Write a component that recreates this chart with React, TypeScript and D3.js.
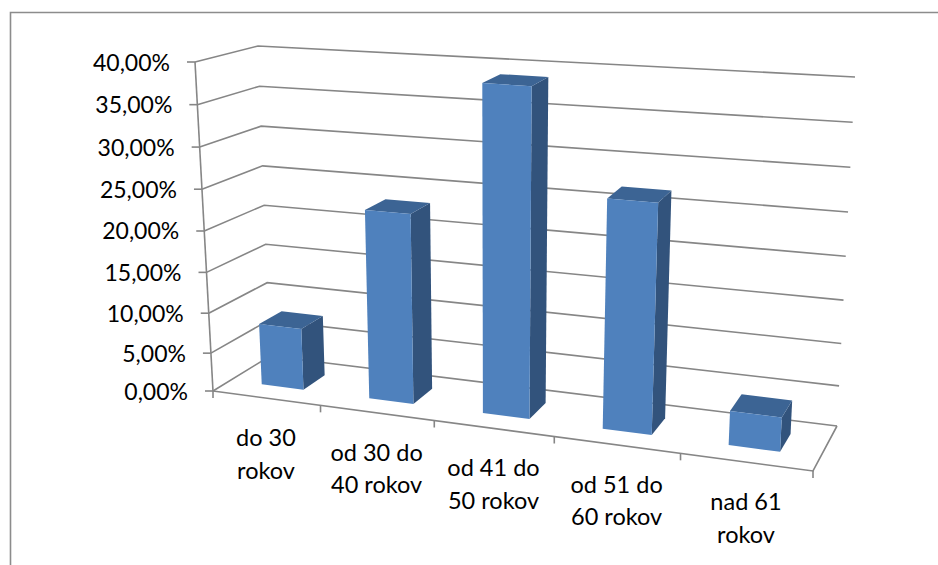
import React from 'react';
import * as d3 from 'd3';

const categories = [['do 30', 'rokov'], ['od 30 do', '40 rokov'], ['od 41 do', '50 rokov'], ['od 51 do', '60 rokov'], ['nad 61', 'rokov']];
const values = [7.9, 23.2, 39, 27, 4.2];
const yTicks = [0, 5, 10, 15, 20, 25, 30, 35, 40];

const width = 938;
const height = 565;

// corners of the 3D box on screen, [x, y]
const frontBottomLeft = [213, 391];
const frontBottomRight = [813, 471];
const backBottomLeft = [270, 356];
const backBottomRight = [837, 426];
const frontTopLeft = [195, 62];
const frontTopRight = [834, 106];
const backTopLeft = [258, 46];
const backTopRight = [855, 77];

const catScale = d3.scaleLinear().domain([0, categories.length]).range([0, 1]);
const tScale = d3.scalePow().exponent(1.04).domain([0, 40]).range([0, 1]);

const barStart = 0.3;
const barWidth = 0.395;
const depthFront = 0.31;
const depthBack = 0.71;

const mix = (a: number[], b: number[], k: number) => [a[0] + (b[0] - a[0]) * k, a[1] + (b[1] - a[1]) * k];

// c = category position, d = depth 0..1, val = percent
const project = (c: number, d: number, val: number) => {
  const s = catScale(c);
  // categories get wider towards the right, the chart is in perspective
  const u = 0.87 * s + 0.13 * s * s;
  const t = tScale(val);
  const bottom = mix(mix(frontBottomLeft, frontBottomRight, u), mix(backBottomLeft, backBottomRight, u), d);
  const top = mix(mix(frontTopLeft, frontTopRight, u), mix(backTopLeft, backTopRight, u), d);
  return mix(bottom, top, t);
};

const line = d3.line();
const poly = (pts: number[][]) => line(pts as [number, number][]) + 'Z';

const gridColor = '#868686';
const fontFamily = 'Lato, "Open Sans", sans-serif';
const nCat = categories.length;

export default function App() {
  return (
    <svg width={width} height={height} style={{ position: 'absolute', left: 0, top: 0, display: 'block', background: '#fff' }}>
      {/* outer frame, cut by the picture edge */}
      <path d={`M10.5,${height}V12.5H${width}`} fill="none" stroke="#8c8c8c" strokeWidth={1.6} />

      {/* gridlines on side and back wall */}
      {yTicks.map(v => (
        <path
          key={v}
          d={line([project(0, 0, v), project(0, 1, v), project(nCat, 1, v)] as [number, number][]) || ''}
          fill="none"
          stroke={gridColor}
          strokeWidth={1.6}
        />
      ))}

      {/* floor edges */}
      <path
        d={line([project(0, 0, 0), project(nCat, 0, 0), project(nCat, 1, 0)] as [number, number][]) || ''}
        fill="none"
        stroke={gridColor}
        strokeWidth={1.6}
      />
      {/* value axis */}
      <path
        d={line([project(0, 0, 0), project(0, 0, 40)] as [number, number][]) || ''}
        fill="none"
        stroke={gridColor}
        strokeWidth={1.6}
      />

      {/* value ticks and labels */}
      {yTicks.map(v => {
        const [x, y] = project(0, 0, v);
        return (
          <g key={v}>
            <line x1={x - 8} x2={x} y1={y} y2={y} stroke={gridColor} strokeWidth={1.6} />
            <text x={x - 25} y={y + 8.5} textAnchor="end" fontFamily={fontFamily} fontSize={23} fill="#000">
              {d3.format('.2f')(v).replace('.', ',')}%
            </text>
          </g>
        );
      })}

      {/* category ticks */}
      {d3.range(nCat + 1).map(c => {
        const [x, y] = project(c, 0, 0);
        return <line key={c} x1={x} x2={x} y1={y} y2={y + 7} stroke={gridColor} strokeWidth={1.6} />;
      })}

      {/* bars */}
      {values.map((v, i) => {
        const l = i + barStart;
        const r = i + barStart + barWidth;
        const front = [project(l, depthFront, 0), project(r, depthFront, 0), project(r, depthFront, v), project(l, depthFront, v)];
        const side = [project(r, depthFront, 0), project(r, depthBack, 0), project(r, depthBack, v), project(r, depthFront, v)];
        const top = [project(l, depthFront, v), project(r, depthFront, v), project(r, depthBack, v), project(l, depthBack, v)];
        return (
          <g key={i}>
            <path d={poly(side)} fill="#32537c" />
            <path d={poly(top)} fill="#3c6494" />
            <path d={poly(front)} fill="#4f81bd" />
          </g>
        );
      })}

      {/* category labels */}
      {categories.map((lines, i) => {
        const [x, y] = project(i + 0.5, 0, 0);
        return (
          <text key={i} textAnchor="middle" fontFamily={fontFamily} fontSize={23.5} fill="#000">
            {lines.map((t, j) => (
              <tspan key={j} x={x} y={y + 48 + j * 32.5}>{t}</tspan>
            ))}
          </text>
        );
      })}
    </svg>
  );
}
